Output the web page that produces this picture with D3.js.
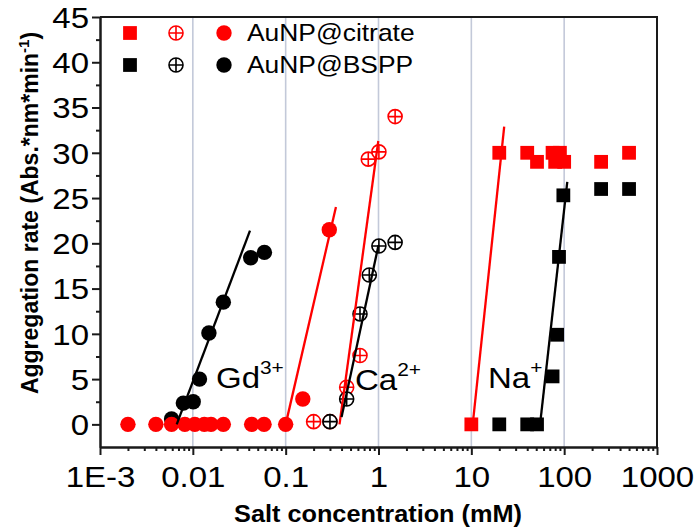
<!DOCTYPE html>
<html>
<head>
<meta charset="utf-8">
<script src="https://cdn.jsdelivr.net/npm/d3@7"></script>
<style>
body { margin: 0; background: #fff; }
</style>
</head>
<body>
<svg id="chart" width="698" height="531"></svg>
<script>
// salt concentration (mM), aggregation rate (Abs.*nm*min-1)
var citrateGd = [[0.002,0],[0.004,0],[0.0059,0],[0.0082,0],[0.0105,0],[0.0133,0],[0.0157,0],[0.0213,0],[0.043,0],[0.0585,0],[0.1,0],[0.153,2.8],[0.295,21.5]];
var bsppGd = [[0.0059,0.6],[0.0079,2.35],[0.0101,2.5],[0.0118,5.0],[0.0149,10.1],[0.0213,13.5],[0.042,18.4],[0.059,19.0]];
var citrateCa = [[0.2,0.3],[0.3,0.3],[0.454,4.1],[0.632,7.6],[0.776,29.3],[1.01,30.1],[1.51,34.0]];
var bsppCa = [[0.3,0.3],[0.454,2.8],[0.632,12.2],[0.796,16.5],[1.01,19.7],[1.51,20.1]];
var citrateNa = [[10,0],[20,30],[40,30],[51,29],[75,30],[90,30],[80,29],[100,29],[250,29],[500,30]];
var bsppNa = [[20,0],[40,0],[51,0],[75,5.3],[84,9.9],[88,18.5],[98,25.3],[250,26],[500,26]];

// linear fits of the rising part
var fitCitrateGd = [[0.1,0],[0.348,24]];
var fitBsppGd = [[0.0067,0],[0.0413,21.4]];
var fitCitrateCa = [[0.38,0],[0.995,31.3]];
var fitBsppCa = [[0.40,0.8],[1.0,19.8]];
var fitCitrateNa = [[10.35,0],[22.6,32.9]];
var fitBsppNa = [[55,0],[108,26.8]];

var xTicks = [1e-3, 1e-2, 1e-1, 1, 10, 100, 1000];
var xTickLabels = ["1E-3", "0.01", "0.1", "1", "10", "100", "1000"];
var yTicks = [0, 5, 10, 15, 20, 25, 30, 35, 40, 45];
var gridAt = [1e-2, 1e-1, 1, 10, 100];
var legendNames = ["AuNP@citrate", "AuNP@BSPP"];

var RED = "#ff0000", BLACK = "#000000";
var FONT = "'Liberation Sans', Arial, Helvetica, sans-serif";
var plotL = 100, plotR = 657, plotT = 17, plotB = 447;

var svg = d3.select("#chart");

var x = d3.scaleLog().domain([1e-3, 1000]).range([plotL, plotR]);
var y = d3.scaleLinear().domain([-2.5, 45]).range([plotB, plotT]);

// vertical grid at each decade
svg.append("g").selectAll("line")
  .data(gridAt).enter()
  .append("line")
  .attr("x1", function(d) { return x(d); })
  .attr("x2", function(d) { return x(d); })
  .attr("y1", plotT).attr("y2", plotB)
  .attr("stroke", "#c3c9d9")
  .attr("stroke-width", 1.6);

// minor ticks, x: 2..9 in every decade
var xMinor = [];
for (var e = -3; e < 3; e++) {
  for (var m = 2; m < 10; m++) xMinor.push(m * Math.pow(10, e));
}
var yMinor = d3.range(2.5, 45, 5);

var xAxisMinor = svg.append("g")
  .attr("transform", "translate(0," + plotB + ")")
  .call(d3.axisBottom(x).tickValues(xMinor).tickSize(4).tickSizeOuter(0).tickFormat(""));
var yAxisMinor = svg.append("g")
  .attr("transform", "translate(" + plotL + ",0)")
  .call(d3.axisLeft(y).tickValues(yMinor).tickSize(4).tickSizeOuter(0).tickFormat(""));

var xAxis = svg.append("g")
  .attr("transform", "translate(0," + plotB + ")")
  .call(d3.axisBottom(x).tickValues(xTicks).tickSize(8).tickSizeOuter(0).tickPadding(11)
    .tickFormat(function(d, i) { return xTickLabels[i]; }));
var yAxis = svg.append("g")
  .attr("transform", "translate(" + plotL + ",0)")
  .call(d3.axisLeft(y).tickValues(yTicks).tickSize(8).tickSizeOuter(0).tickPadding(2));

[xAxisMinor, yAxisMinor, xAxis, yAxis].forEach(function(g) {
  g.selectAll("path, line").attr("stroke", "#1a1a1a").attr("stroke-width", 2);
  g.selectAll("text")
    .attr("font-family", FONT)
    .attr("font-size", 30)
    .attr("fill", "#000")
    .attr("transform", "scale(1.1,1)");
});
yAxis.selectAll("text").attr("dy", "0.34em");

// top and right frame
svg.append("path")
  .attr("d", "M" + plotL + "," + plotT + "H" + plotR + "V" + plotB)
  .attr("fill", "none")
  .attr("stroke", "#1a1a1a")
  .attr("stroke-width", 2);

// axis titles
svg.append("text")
  .attr("transform", "translate(378,522) scale(1.1,1)")
  .attr("text-anchor", "middle")
  .attr("font-family", FONT)
  .attr("font-weight", "bold")
  .attr("font-size", 23)
  .text("Salt concentration (mM)");

var ylab = svg.append("text")
  .attr("transform", "translate(38,213) rotate(-90)")
  .attr("text-anchor", "middle")
  .attr("font-family", FONT)
  .attr("font-weight", "bold")
  .attr("font-size", 23);
ylab.append("tspan").text("Aggregation rate (Abs.*nm*min");
ylab.append("tspan").attr("font-size", 15).attr("dy", -9).text("-1");
ylab.append("tspan").attr("dy", 9).text(")");

// markers
var sq = d3.symbol().type(d3.symbolSquare).size(190);

function squares(data, col) {
  svg.append("g").selectAll("path")
    .data(data).enter()
    .append("path")
    .attr("d", sq)
    .attr("transform", function(d) { return "translate(" + x(d[0]) + "," + y(d[1]) + ")"; })
    .attr("fill", col);
}

function dots(data, col) {
  svg.append("g").selectAll("circle")
    .data(data).enter()
    .append("circle")
    .attr("cx", function(d) { return x(d[0]); })
    .attr("cy", function(d) { return y(d[1]); })
    .attr("r", 7.7)
    .attr("fill", col);
}

function crossed(data, col) {
  var g = svg.append("g").selectAll("g")
    .data(data).enter()
    .append("g")
    .attr("transform", function(d) { return "translate(" + x(d[0]) + "," + y(d[1]) + ")"; });
  g.append("circle")
    .attr("r", 7)
    .attr("fill", "#fff")
    .attr("stroke", col)
    .attr("stroke-width", 1.6);
  g.append("path")
    .attr("d", "M-7,0H7M0,-7V7")
    .attr("stroke", col)
    .attr("stroke-width", 1.6);
}

dots(bsppGd, BLACK);
dots(citrateGd, RED);
crossed(citrateCa, RED);
crossed(bsppCa, BLACK);
squares(citrateNa, RED);
squares(bsppNa, BLACK);

var line = d3.line()
  .x(function(d) { return x(d[0]); })
  .y(function(d) { return y(d[1]); });

[[fitCitrateGd, RED], [fitBsppGd, BLACK], [fitCitrateCa, RED],
 [fitBsppCa, BLACK], [fitCitrateNa, RED], [fitBsppNa, BLACK]].forEach(function(f) {
  svg.append("path")
    .attr("d", line(f[0]))
    .attr("fill", "none")
    .attr("stroke", f[1])
    .attr("stroke-width", 2.3);
});

// ion labels
function ion(px, py, base, sup) {
  var t = svg.append("text")
    .attr("transform", "translate(" + px + "," + py + ") scale(1.1,1)")
    .attr("font-family", FONT)
    .attr("font-size", 30)
    .attr("fill", "#000");
  t.append("tspan").text(base);
  t.append("tspan").attr("font-size", 19).attr("dy", -14).text(sup);
}
ion(216, 388, "Gd", "3+");
ion(355, 390, "Ca", "2+");
ion(488, 388, "Na", "+");

// legend
var legendRows = [[RED, 33], [BLACK, 65]];
legendRows.forEach(function(r, i) {
  var col = r[0], ly = r[1];
  svg.append("path").attr("d", sq).attr("transform", "translate(130," + ly + ")").attr("fill", col);
  var cg = svg.append("g").attr("transform", "translate(176," + ly + ")");
  cg.append("circle").attr("r", 7).attr("fill", "#fff").attr("stroke", col).attr("stroke-width", 1.6);
  cg.append("path").attr("d", "M-7,0H7M0,-7V7").attr("stroke", col).attr("stroke-width", 1.6);
  svg.append("circle").attr("cx", 224).attr("cy", ly).attr("r", 7.7).attr("fill", col);
  svg.append("text")
    .attr("transform", "translate(247," + (ly + 8) + ") scale(1.1,1)")
    .attr("font-family", FONT)
    .attr("font-size", 24)
    .attr("fill", "#000")
    .text(legendNames[i]);
});
</script>
</body>
</html>
